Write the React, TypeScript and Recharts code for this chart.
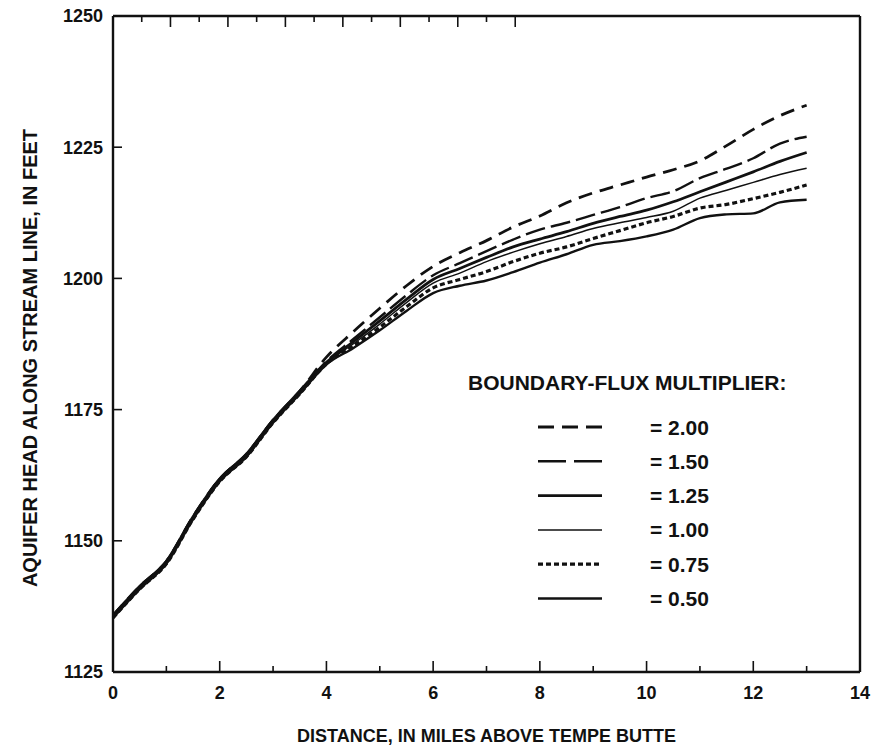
import { Legend, Line, LineChart, XAxis, YAxis } from 'recharts';

// distance above Tempe Butte, miles
const distance = [
  0, 0.5, 1, 1.5, 2, 2.5, 3, 3.5, 4, 4.5, 5, 5.5, 6, 6.5, 7, 7.5, 8, 8.5, 9, 9.5,
  10, 10.5, 11, 11.5, 12, 12.5, 13,
];

// below mile 4 the curves run together; upper and lower edge of that bundle
const headUpper = [1135.8, 1141.3, 1146.1, 1154.6, 1161.8, 1166.5, 1173, 1178.5];
const headLower = [1135.3, 1140.8, 1145.6, 1154.1, 1161.3, 1166, 1172.5, 1178];

// heads from mile 4 to mile 13, one list per boundary-flux multiplier
const head200 = [
  1185, 1189.8, 1194.3, 1198.6, 1202.3, 1204.9, 1207.2, 1209.8, 1211.9, 1214.4, 1216.3,
  1217.8, 1219.3, 1220.7, 1222.4, 1225.3, 1228.4, 1231, 1233,
];
const head150 = [
  1184.2, 1188.4, 1192.6, 1196.8, 1200.6, 1202.9, 1205.2, 1207.4, 1209.3, 1210.6, 1212.1,
  1213.6, 1215.3, 1216.6, 1219.1, 1220.9, 1222.9, 1225.7, 1227,
];
const head125 = [
  1184, 1187.9, 1191.9, 1196, 1199.8, 1201.9, 1204, 1206, 1207.5, 1208.9, 1210.5, 1211.8,
  1213, 1214.6, 1216.5, 1218.4, 1220.3, 1222.3, 1224,
];
const head100 = [
  1183.8, 1187.5, 1191.3, 1195.4, 1199.1, 1201, 1203.2, 1205, 1206.6, 1208, 1209.5, 1210.6,
  1211.6, 1212.8, 1215.3, 1216.8, 1218.3, 1219.8, 1221,
];
const head075 = [
  1183.7, 1187.1, 1190.7, 1194.6, 1198.2, 1199.8, 1201.3, 1203.2, 1204.8, 1206, 1207.6,
  1209.1, 1210.6, 1211.8, 1213.4, 1214.1, 1215.2, 1216.4, 1217.8,
];
const head050 = [
  1183.6, 1186.7, 1190.1, 1193.8, 1197.2, 1198.6, 1199.6, 1201.2, 1203, 1204.6, 1206.4,
  1207.1, 1208, 1209.3, 1211.5, 1212.2, 1212.4, 1214.5, 1215,
];

const xTicks = [0, 1, 2, 3, 4, 5, 6, 7, 8, 9, 10, 11, 12, 13, 14];
const yTicks = [1125, 1150, 1175, 1200, 1225, 1250];

const INK = '#111';
const FONT = '"Liberation Sans", Arial, Helvetica, sans-serif';
const LABEL_GAP = 14;

const series = [
  { key: 'm200', label: '= 2.00', head: headUpper, values: head200, width: 2.8, dash: '14 8', legendDash: '16 8' },
  { key: 'm150', label: '= 1.50', head: headUpper, values: head150, width: 2.4, dash: '20 6', legendDash: '28 8' },
  { key: 'm125', label: '= 1.25', head: headUpper, values: head125, width: 2.8, dash: undefined, legendDash: undefined },
  { key: 'm100', label: '= 1.00', head: headLower, values: head100, width: 1.5, dash: undefined, legendDash: undefined },
  { key: 'm075', label: '= 0.75', head: headLower, values: head075, width: 3.2, dash: '5 3', legendDash: '5 3' },
  { key: 'm050', label: '= 0.50', head: headLower, values: head050, width: 2.4, dash: undefined, legendDash: undefined },
];

const rows = distance.map((d, i) => {
  const row: Record<string, number> = { distance: d };
  series.forEach((s) => {
    row[s.key] = i < s.head.length ? s.head[i] : s.values[i - s.head.length];
  });
  return row;
});

function BottomTick({ x, y, payload }: any) {
  const major = payload.value % 2 === 0;
  const base = y - LABEL_GAP;
  return (
    <g>
      <line x1={x} x2={x} y1={base} y2={base - (major ? 11 : 6)} stroke={INK} strokeWidth={1.6} />
      {major && (
        <text x={x} y={y} dy="0.71em" textAnchor="middle" fill={INK} fontSize={18} fontWeight="bold" fontFamily={FONT}>
          {payload.value}
        </text>
      )}
    </g>
  );
}

function TopTick({ x, y, payload }: any) {
  const major = payload.value % 2 === 0;
  const base = y + LABEL_GAP;
  return <line x1={x} x2={x} y1={base} y2={base + (major ? 11 : 6)} stroke={INK} strokeWidth={1.6} />;
}

function LeftTick({ x, y, payload }: any) {
  const base = x + LABEL_GAP;
  return (
    <g>
      <line x1={base} x2={base + 9} y1={y} y2={y} stroke={INK} strokeWidth={1.6} />
      <text x={x + 4} y={y} dy="0.36em" textAnchor="end" fill={INK} fontSize={18} fontWeight="bold" fontFamily={FONT}>
        {payload.value}
      </text>
    </g>
  );
}

function RightTick({ x, y }: any) {
  const base = x - LABEL_GAP;
  return <line x1={base} x2={base - 11} y1={y} y2={y} stroke={INK} strokeWidth={1.6} />;
}

function XTitle({ viewBox }: any) {
  return (
    <text
      x={viewBox.x + viewBox.width / 2}
      y={viewBox.y + 70}
      textAnchor="middle"
      fill={INK}
      fontSize={18}
      fontWeight="bold"
      fontFamily={FONT}
    >
      DISTANCE, IN MILES ABOVE TEMPE BUTTE
    </text>
  );
}

function YTitle({ viewBox }: any) {
  const cx = viewBox.x - 82;
  const cy = viewBox.y + viewBox.height / 2 + 14;
  return (
    <text
      x={cx}
      y={cy}
      dy="0.36em"
      textAnchor="middle"
      transform={`rotate(-90 ${cx} ${cy})`}
      fill={INK}
      fontSize={20}
      fontWeight="bold"
      fontFamily={FONT}
    >
      AQUIFER HEAD ALONG STREAM LINE, IN FEET
    </text>
  );
}

function MultiplierLegend() {
  return (
    <svg width={380} height={250} style={{ overflow: 'visible' }}>
      <text x={0} y={12} dy="0.36em" fill={INK} fontSize={21} fontWeight="bold" fontFamily={FONT}>
        BOUNDARY-FLUX MULTIPLIER:
      </text>
      {series.map((s, i) => {
        const cy = 57 + i * 34.3;
        return (
          <g key={s.key}>
            <line
              x1={70}
              x2={134}
              y1={cy}
              y2={cy}
              stroke={INK}
              strokeWidth={s.width}
              strokeDasharray={s.legendDash}
            />
            <text x={182} y={cy} dy="0.36em" fill={INK} fontSize={21} fontWeight="bold" fontFamily={FONT}>
              {s.label}
            </text>
          </g>
        );
      })}
    </svg>
  );
}

export default function App() {
  return (
    <div style={{ position: 'absolute', left: 0, top: 0, background: '#fff' }}>
      <LineChart width={873} height={751} data={rows} margin={{ top: 15, right: 12, bottom: 78, left: 112 }}>
        <XAxis
          xAxisId="main"
          dataKey="distance"
          type="number"
          domain={[0, 14]}
          ticks={xTicks}
          interval={0}
          height={1}
          tickSize={0}
          tickMargin={LABEL_GAP}
          tickLine={false}
          tick={<BottomTick />}
          axisLine={{ stroke: INK, strokeWidth: 2.4 }}
          label={{ content: <XTitle /> }}
        />
        <XAxis
          xAxisId="top"
          orientation="top"
          type="number"
          domain={[0, 14]}
          ticks={xTicks}
          interval={0}
          height={1}
          tickSize={0}
          tickMargin={LABEL_GAP}
          tickLine={false}
          tick={<TopTick />}
          axisLine={{ stroke: INK, strokeWidth: 2.4 }}
        />
        <YAxis
          yAxisId="main"
          type="number"
          domain={[1125, 1250]}
          ticks={yTicks}
          interval={0}
          width={1}
          tickSize={0}
          tickMargin={LABEL_GAP}
          tickLine={false}
          tick={<LeftTick />}
          axisLine={{ stroke: INK, strokeWidth: 2.4 }}
          label={{ content: <YTitle /> }}
        />
        <YAxis
          yAxisId="right"
          orientation="right"
          type="number"
          domain={[1125, 1250]}
          ticks={yTicks}
          interval={0}
          width={1}
          tickSize={0}
          tickMargin={LABEL_GAP}
          tickLine={false}
          tick={<RightTick />}
          axisLine={{ stroke: INK, strokeWidth: 2.4 }}
        />
        <Legend
          layout="vertical"
          align="center"
          verticalAlign="middle"
          wrapperStyle={{ left: 468, top: 370, width: 380 }}
          content={<MultiplierLegend />}
        />
        {series.map((s) => (
          <Line
            key={s.key}
            xAxisId="main"
            yAxisId="main"
            dataKey={s.key}
            type="monotone"
            stroke={INK}
            strokeWidth={s.width}
            strokeDasharray={s.dash}
            dot={false}
            activeDot={false}
            isAnimationActive={false}
          />
        ))}
      </LineChart>
    </div>
  );
}
